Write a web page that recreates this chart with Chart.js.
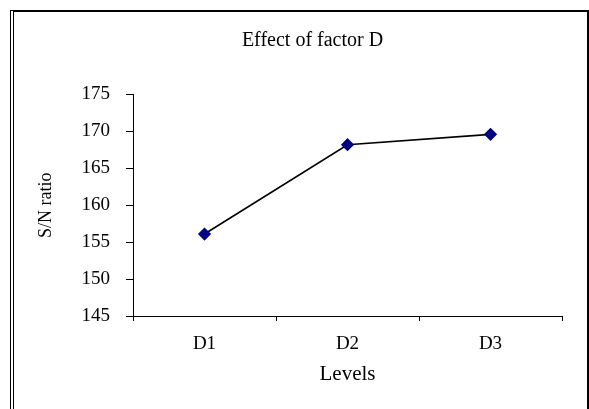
<!DOCTYPE html>
<html>
<head>
<meta charset="utf-8">
<script src="https://cdn.jsdelivr.net/npm/chart.js@4.4.1/dist/chart.umd.min.js"></script>
<style>
  html, body { margin: 0; padding: 0; background: #fff; overflow: hidden; }
  #frame {
    position: absolute; left: 10px; top: 10px; width: 579px; height: 430px;
    box-sizing: border-box;
    border-top: 2px solid #000; border-right: 2px solid #000; border-left: 4px double #000;
  }
  #chart { position: absolute; left: 0; top: 0; }
</style>
</head>
<body>
<div id="frame"></div>
<canvas id="chart" width="589" height="409"></canvas>
<script>
const chartTitle = "Effect of factor D";
const levels = ["D1", "D2", "D3"];
const snRatio = [156.1, 168.2, 169.6];
const yTicks = [145, 150, 155, 160, 165, 170, 175];

const serif = "'Liberation Serif', 'Times New Roman', serif";

// title drawn a bit left of centre, like the original
const titlePlugin = {
  id: "offsetTitle",
  afterDraw(chart) {
    const { ctx, chartArea } = chart;
    ctx.save();
    ctx.font = "20px " + serif;
    ctx.fillStyle = "#000";
    ctx.textAlign = "center";
    ctx.textBaseline = "middle";
    ctx.fillText(chartTitle, (chartArea.left + chartArea.right) / 2 - 35, 41);
    ctx.restore();
  },
};

new Chart(document.getElementById("chart"), {
  type: "line",
  data: {
    labels: levels,
    datasets: [
      {
        data: snRatio,
        borderColor: "#000",
        borderWidth: 1.6,
        pointStyle: "rectRot",
        pointRadius: 5.5,
        pointBackgroundColor: "#000080",
        pointBorderColor: "#000080",
        tension: 0,
      },
    ],
  },
  options: {
    responsive: false,
    animation: false,
    devicePixelRatio: 1,
    layout: { padding: { left: 0, right: 27, top: 94.5, bottom: 0 } },
    plugins: {
      legend: { display: false },
      tooltip: { enabled: false },
      title: { display: false },
    },
    scales: {
      x: {
        offset: true,
        afterFit(scale) { scale.height = 93; },
        grid: { offset: true, drawOnChartArea: false, drawTicks: true, tickLength: 5, color: "#000" },
        border: { display: true, color: "#000", width: 1 },
        ticks: { color: "#000", padding: 12, font: { family: serif, size: 19 } },
        title: {
          display: true, text: "Levels", color: "#000",
          font: { family: serif, size: 21 }, padding: { top: 0, bottom: 22 },
        },
      },
      y: {
        min: 145,
        max: 175,
        afterFit(scale) { scale.width = 133; },
        afterBuildTicks(scale) { scale.ticks = yTicks.map(v => ({ value: v })); },
        grid: { drawOnChartArea: false, drawTicks: true, tickLength: 7, color: "#000" },
        border: { display: true, color: "#000", width: 1 },
        ticks: { color: "#000", padding: 16, font: { family: serif, size: 19 } },
        title: {
          display: true, text: "S/N ratio", color: "#000",
          font: { family: serif, size: 18 }, padding: { top: 35, bottom: 0 },
        },
      },
    },
  },
  plugins: [titlePlugin],
});
</script>
</body>
</html>
